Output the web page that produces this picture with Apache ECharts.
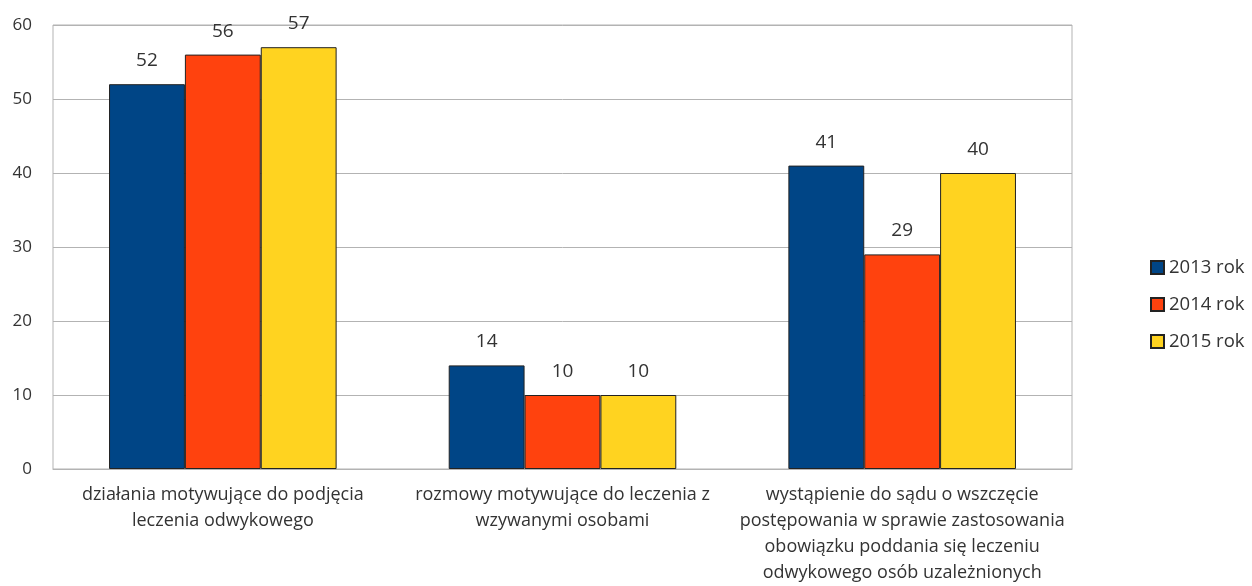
<!DOCTYPE html>
<html><head><meta charset="utf-8">
<script src="https://cdn.jsdelivr.net/npm/echarts@6/dist/echarts.min.js"></script>
<style>html,body{margin:0;padding:0;background:#fff}#c{width:1252px;height:586px}</style>
</head><body><div id="c"></div>
<script>
const categories = [
  "działania motywujące do podjęcia\nleczenia odwykowego",
  "rozmowy motywujące do leczenia z\nwzywanymi osobami",
  "wystąpienie do sądu o wszczęcie\npostępowania w sprawie zastosowania\nobowiązku poddania się leczeniu\nodwykowego osób uzależnionych"
];
const seriesNames = ["2013 rok", "2014 rok", "2015 rok"];
const v2013 = [52, 14, 41];
const v2014 = [56, 10, 29];
const v2015 = [57, 10, 40];
const colors = ["#004586", "#ff420e", "#ffd320"];
const font = "'Open Sans', 'Noto Sans', sans-serif";
const chart = echarts.init(document.getElementById('c'));
const vals = [v2013, v2014, v2015];
chart.setOption({
  animation: false,
  textStyle: {fontFamily: font},
  grid: {left: 53, right: 180, top: 25, bottom: 115, containLabel: false, show: true, borderColor: '#b3b3b3', borderWidth: 1},
  legend: {
    orient: 'vertical', left: 1145, top: 253, itemGap: 18, itemWidth: 13, itemHeight: 13,
    icon: 'rect', textStyle: {fontSize: 18.5, color: '#333', fontFamily: font},
    data: seriesNames
  },
  xAxis: {
    type: 'category', data: categories,
    axisLine: {lineStyle: {color: '#b3b3b3'}},
    axisTick: {show: false},
    axisLabel: {interval: 0, fontSize: 18, color: '#333', lineHeight: 26, margin: 13, fontFamily: font}
  },
  yAxis: {
    type: 'value', min: 0, max: 60, interval: 10,
    axisLine: {show: false}, axisTick: {show: false},
    splitLine: {lineStyle: {color: '#b3b3b3'}},
    axisLabel: {fontSize: 17, color: '#333', margin: 21, fontFamily: font}
  },
  series: seriesNames.map((n, i) => ({
    name: n, type: 'bar', data: vals[i], barGap: '0%', barCategoryGap: '33%',
    itemStyle: {color: colors[i], borderColor: '#222', borderWidth: 1},
    label: {show: true, position: 'top', distance: 14, fontSize: 19, color: '#333', fontFamily: font}
  }))
});
</script></body></html>
